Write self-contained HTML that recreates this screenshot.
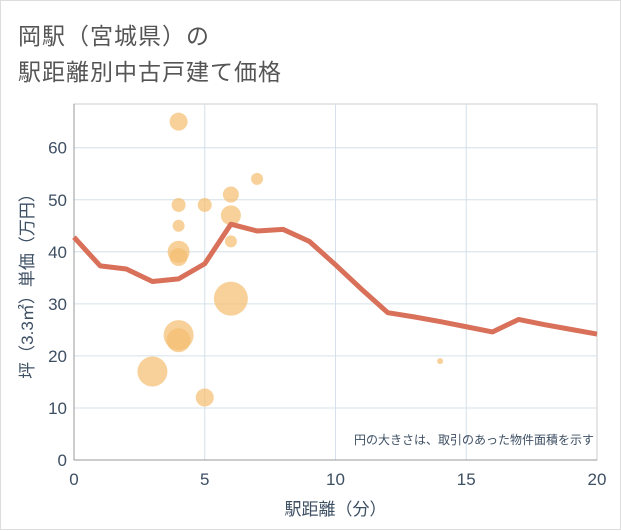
<!DOCTYPE html>
<html><head><meta charset="utf-8"><style>
body{margin:0;width:621px;height:530px;background:#fff;font-family:"Liberation Sans","Noto Sans CJK JP",sans-serif;}
#card{position:absolute;left:0;top:0;width:619px;height:528px;border:1px solid #ddd;background:#fff;}
.title{position:absolute;left:17px;font-size:23px;color:#555;letter-spacing:1px;}
</style></head><body>
<div id="card">
<div class="title" style="top:16px">岡駅（宮城県）の</div>
<div class="title" style="top:52px">駅距離別中古戸建て価格</div>
<svg id="chart" width="621" height="530" style="position:absolute;left:0;top:0"></svg>
</div>
<script>
const lineX=[0,1,2,3,4,5,6,7,8,9,10,11,12,13,14,15,16,17,18,19,20];
const lineY=[42.8,37.3,36.7,34.3,34.8,37.7,45.3,44,44.3,42,37.5,32.8,28.3,27.5,26.6,25.6,24.6,27,26,25.1,24.2];
const bubX=[4,4,5,6,7,6,4,6,4,4,6,4,4,3,5,14];
const bubY=[65,49,49,51,54,47,45,42,40,39,31,24,23,17,12,19];
const bubR=[9,7,7,8,6,10,6,6,11,9,17,15,12,15,9,3];
const xTicks=[0,5,10,15,20];
const yTicks=[0,10,20,30,40,50,60];
const L=73,R=596,T=103,B=459;
const sx=v=>L+(v/20)*(R-L);
const sy=v=>B-(v/60)*(B-146.7);
const NS="http://www.w3.org/2000/svg";
const svg=document.getElementById('chart');
function mk(t,a,p){const e=document.createElementNS(NS,t);for(const k in a)e.setAttribute(k,a[k]);(p||svg).appendChild(e);return e;}
mk('rect',{x:L,y:T,width:R-L,height:B-T,fill:'#fff',stroke:'#ccc'});
xTicks.forEach(v=>{if(v>0&&v<20){const g=mk('line',{x1:sx(v),x2:sx(v),y1:T,y2:B,stroke:'#d5e0ea'});}
const t=mk('text',{x:sx(v),y:B+25,'text-anchor':'middle','font-size':17,fill:'#3d4f63'});t.textContent=v;
});
yTicks.forEach(v=>{if(v>0){const g=mk('line',{x1:L,x2:R,y1:sy(v),y2:sy(v),stroke:'#d5e0ea'});}
const t=mk('text',{x:L-7,y:sy(v)+6,'text-anchor':'end','font-size':17,fill:'#3d4f63'});t.textContent=v;
});
mk('line',{x1:L,x2:L,y1:T,y2:B,stroke:'#999'});mk('line',{x1:L,x2:R,y1:B,y2:B,stroke:'#999'});
bubX.forEach((x,i)=>{const c=mk('circle',{cx:sx(x),cy:sy(bubY[i]),r:bubR[i],fill:'rgba(243,190,110,0.7)'});
});
const pl=mk('polyline',{points:lineX.map((x,i)=>sx(x)+','+sy(lineY[i])).join(' '),fill:'none',stroke:'#d9705a','stroke-width':5,'stroke-linejoin':'round'});

const xt=mk('text',{x:(L+R)/2,y:514,'text-anchor':'middle','font-size':17,fill:'#3d4f63'});xt.textContent='駅距離（分）';

const yt=mk('text',{x:0,y:0,'text-anchor':'middle','font-size':17,fill:'#3d4f63',transform:`translate(32,${(T+B)/2}) rotate(-90)`});yt.textContent='坪（3.3㎡）単価（万円）';

const nt=mk('text',{x:R-3,y:443,'text-anchor':'end','font-size':12,fill:'#3d4f63'});nt.textContent='円の大きさは、取引のあった物件面積を示す';

</script>
</body></html>
